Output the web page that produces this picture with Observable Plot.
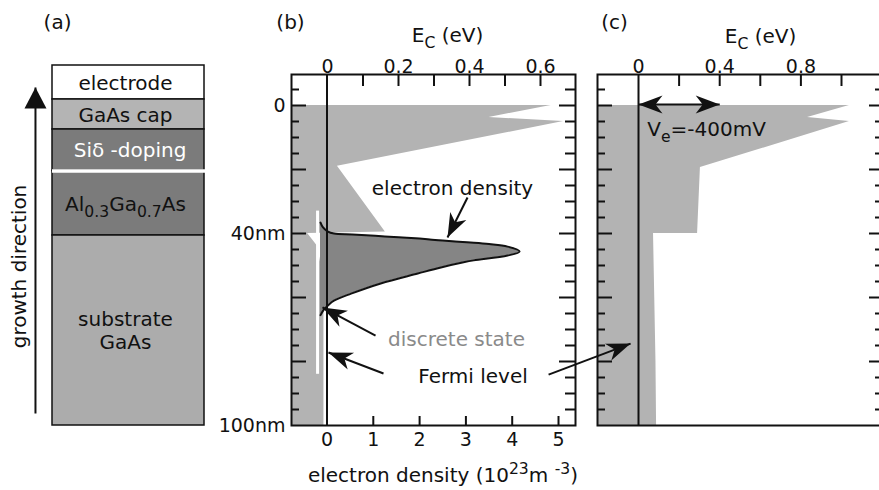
<!DOCTYPE html>
<html>
<head>
<meta charset="utf-8">
<script src="https://cdn.jsdelivr.net/npm/d3@7"></script>
<script src="https://cdn.jsdelivr.net/npm/@observablehq/plot@0.6"></script>
<style>
html, body { margin: 0; padding: 0; background: #fff; }
#fig { position: relative; width: 879px; height: 490px; overflow: hidden; background: #fff; font-family: "DejaVu Sans", sans-serif; }
#fig svg { position: absolute; left: 0; top: 0; }
</style>
</head>
<body>
<div id="fig"></div>
<script>
// ---------------- data ----------------
// (a) layer stack (schematic units, top to bottom)
const layerNames  = ["electrode", "GaAs cap", "Siδ -doping", "Al_{0.3}Ga_{0.7}As", "substrate\nGaAs"];
const layerTop    = [0, 34, 64, 105.5, 170];
const layerBottom = [34, 64, 105.5, 170, 360];
const layerColors = ["#ffffff", "#b4b4b4", "#7b7b7b", "#7b7b7b", "#acacac"];

// (b) conduction band edge E_C (eV) vs depth (nm)
const bandDepthB = [0, 3.75, 5, 19, 39.5, 40, 44, 50, 60, 100];
const bandEB     = [0.63, 0.455, 0.665, 0.028, 0.163, -0.056, -0.028, -0.018, -0.01, -0.01];

// (b) electron density (10^23 m^-3) vs depth (nm)
const densDepth = [36.6, 38.0, 39.4, 40.0, 40.3, 40.9, 41.6, 42.2, 42.8, 43.3, 44.1, 45.6, 46.9, 48.4, 49.0, 50.6, 52.5, 55.6, 58.8, 61.0, 62.5, 64.0, 65.5];
const densValue = [-0.14, -0.09, 0.02, 0.15, 0.55, 1.25, 2.0, 2.5, 3.1, 3.5, 3.9, 4.16, 3.9, 3.17, 2.95, 2.46, 1.96, 1.16, 0.52, 0.15, 0.02, -0.08, -0.14];

// (b) discrete state level (eV) and its drawn depth span (nm)
const discreteStateE = -0.028;
const discreteStateSpan = [33, 84];

// (c) conduction band edge with V_e = -400 mV
const bandDepthC = [0, 3.75, 5, 19.4, 40, 40, 60, 80, 100];
const bandEC     = [1.039, 0.833, 1.039, 0.305, 0.291, 0.074, 0.080, 0.086, 0.089];
const gateShift  = [0, 0.4]; // V_e arrow span (eV)

// ticks
const yMajorTicks = [0, 20, 40, 60, 80];
const yMinorTicks = [-5, 5, 10, 15, 25, 30, 35, 45, 50, 55, 65, 70, 75, 85, 90, 95];
const depthLabelValues = [0, 40, 100];
const depthLabelTexts  = ["0", "40nm", "100nm"];
const eTicksB = [0.1, 0.2, 0.3, 0.4, 0.5, 0.6];
const eLabelsB = [0, 0.2, 0.4, 0.6];
const nTicksB = [0, 1, 2, 3, 4, 5];
const eTicksC = [0.2, 0.4, 0.6, 0.8, 1.0];
const eLabelsC = [0, 0.4, 0.8];

// ---------------- layout ----------------
const W = 890, H = 490, FT = 74, FB = 425;
const INK = "#111";
const depthDomain = [-9.6875, 100];
const BL = 291, BR = 575, CL = 597, CR = 883;
const eDomainB = [-0.1014, 0.6986];
const nDomainB = [-0.7667, 5.367];
const eDomainC = [-0.2020, 1.2069];
const SVGNS = "http://www.w3.org/2000/svg";

function headMarker(d, orient) {
  return (color, context) => {
    const doc = (context && context.document) || document;
    const m = doc.createElementNS(SVGNS, "marker");
    m.setAttribute("viewBox", "-30 -15 32 30");
    m.setAttribute("markerWidth", "32");
    m.setAttribute("markerHeight", "30");
    m.setAttribute("markerUnits", "userSpaceOnUse");
    m.setAttribute("refX", "0");
    m.setAttribute("refY", "0");
    m.setAttribute("orient", orient);
    const p = doc.createElementNS(SVGNS, "path");
    p.setAttribute("d", d);
    p.setAttribute("fill", INK);
    p.setAttribute("stroke", "none");
    m.appendChild(p);
    return m;
  };
}
const NOTCH = "M0,0 L-24,-9 L-17,0 L-24,9 Z";
const TRI = "M0,0 L-21,-11 L-21,11 Z";
let headEnd = headMarker(NOTCH, "auto");
let headStart = headMarker(NOTCH, "auto-start-reverse");
let triEnd = headMarker(TRI, "auto");
try { Plot.link([], {x1: 0, x2: 0, y1: 0, y2: 0, markerEnd: headEnd}); }
catch (e) { headEnd = "arrow"; headStart = "arrow"; triEnd = "arrow"; }

const baseStyle = {background: "transparent", overflow: "visible", maxWidth: "none", fontFamily: "DejaVu Sans, sans-serif", fontSize: "19px", color: INK};

function panel(xDomain, L, R, yDomain, yRange, marks) {
  return Plot.plot({
    width: W, height: H,
    marginTop: yRange[0], marginBottom: H - yRange[1], marginLeft: L, marginRight: W - R,
    x: {domain: xDomain, range: [L, R], axis: null},
    y: {domain: yDomain, range: yRange, axis: null},
    style: baseStyle,
    marks
  });
}

function yTickMarks(FW, rightMajor, rightMinor) {
  return [
    Plot.ruleY(yMajorTicks, {y: d => d, insetRight: FW - 15, stroke: INK, strokeWidth: 2}),
    Plot.ruleY(yMinorTicks, {y: d => d, insetRight: FW - 8, stroke: INK, strokeWidth: 2}),
    Plot.ruleY(yMajorTicks, {y: d => d, insetLeft: FW - rightMajor, stroke: INK, strokeWidth: 2}),
    Plot.ruleY(yMinorTicks, {y: d => d, insetLeft: FW - rightMinor, stroke: INK, strokeWidth: 2})
  ];
}

// ---------------- panel (a) ----------------
const layers = layerNames.map((n, i) => ({name: n, top: layerTop[i], bottom: layerBottom[i]}));
const midY = d => (d.top + d.bottom) / 2;
const plotA = Plot.plot({
  width: W, height: H, marginTop: 65, marginBottom: H - 425, marginLeft: 52, marginRight: W - 204,
  x: {domain: [0, 1], range: [52, 204], axis: null},
  y: {domain: [0, 360], range: [65, 425], axis: null},
  color: {domain: layerNames, range: layerColors},
  style: baseStyle,
  marks: [
    Plot.rect(layers, {x1: 0, x2: 1, y1: "top", y2: "bottom", fill: "name", stroke: INK, strokeWidth: 1.5}),
    Plot.ruleY([layerTop[3]], {y: d => d, x1: 0, x2: 1.02, stroke: "white", strokeWidth: 3.5}),
    Plot.text(layers.filter(d => d.name !== "Siδ -doping"), {x: 0.48, y: midY, text: "name", fill: INK, fontSize: 20, lineAnchor: "middle", lineHeight: 1.15}),
    Plot.text(layers.filter(d => d.name === "Siδ -doping"), {x: 0.51, y: midY, text: "name", fill: "white", fontSize: 20, lineAnchor: "middle"}),
    Plot.link([0], {x1: -0.112, x2: -0.112, y1: 348, y2: 22, stroke: INK, strokeWidth: 2, markerEnd: triEnd}),
    Plot.text(["growth direction"], {x: -0.218, y: 201, rotate: -90, fontSize: 20, fill: INK}),
    Plot.text(["(a)"], {x: 0.033, y: -37, fontSize: 20, fill: INK, lineAnchor: "bottom"})
  ]
});

// ---------------- panel (b): band layer ----------------
const bandB = bandDepthB.map((d, i) => ({depth: d, E: bandEB[i]}));
const plotB1 = panel(eDomainB, BL, BR, depthDomain, [FT, FB], [
  Plot.areaX(bandB, {y: "depth", x1: eDomainB[0], x2: "E", fill: "#b3b3b3"}),
  Plot.ruleX([discreteStateE], {x: d => d, y1: discreteStateSpan[0], y2: discreteStateSpan[1], stroke: "white", strokeWidth: 3}),
  Plot.ruleX(eTicksB, {x: d => d, insetBottom: FB - FT - 12, stroke: INK, strokeWidth: 2}),
  Plot.text(eLabelsB, {x: d => d, frameAnchor: "top", lineAnchor: "bottom", dy: -2, text: d => String(d), fontSize: 19, fill: INK}),
  Plot.text(["E_{C} (eV)"], {x: 0.338, y: -19.7, lineAnchor: "bottom", fontSize: 20, fill: INK})
]);

// ---------------- panel (b): density layer ----------------
const dens = densDepth.map((d, i) => ({depth: d, n: densValue[i]}));
const FWB = BR - BL;
const plotB2 = panel(nDomainB, BL, BR, depthDomain, [FT, FB], [
  Plot.areaX(dens, {y: "depth", x1: densValue[0], x2: "n", fill: "#858585", curve: "catmull-rom"}),
  Plot.lineX(dens, {x: "n", y: "depth", stroke: INK, strokeWidth: 2, curve: "catmull-rom"}),
  Plot.ruleX([0], {x: d => d, stroke: INK, strokeWidth: 2}),
  ...yTickMarks(FWB, 16, 10),
  Plot.ruleX(nTicksB, {x: d => d, insetTop: FB - FT - 9, stroke: INK, strokeWidth: 2}),
  Plot.frame({stroke: INK, strokeWidth: 2}),
  Plot.text(depthLabelValues, {y: d => d, frameAnchor: "left", textAnchor: "end", dx: -6, text: (d, i) => depthLabelTexts[i], fontSize: 19, fill: INK}),
  Plot.text(nTicksB, {x: d => d, frameAnchor: "bottom", lineAnchor: "top", dy: 7, text: d => String(d), fontSize: 19, fill: INK}),
  Plot.text(["electron density (10^{23}m ^{-3})"], {x: 2.505, y: 117.8, lineAnchor: "bottom", fontSize: 20, fill: INK}),
  Plot.text(["(b)"], {x: -0.788, y: -24.06, lineAnchor: "bottom", fontSize: 20, fill: INK}),
  Plot.text(["electron density"], {x: 2.71, y: 28.1, lineAnchor: "bottom", fontSize: 20, fill: INK}),
  Plot.text(["discrete state"], {x: 2.797, y: 75.0, lineAnchor: "bottom", fontSize: 20, fill: "#8a8a8a"}),
  Plot.text(["Fermi level"], {x: 3.153, y: 86.6, lineAnchor: "bottom", fontSize: 20, fill: INK}),
  Plot.link([0], {x1: 3.035, y1: 28.75, x2: 2.603, y2: 41.25, stroke: INK, strokeWidth: 2, markerEnd: headEnd}),
  Plot.link([0], {x1: 1.048, y1: 71.9, x2: -0.097, y2: 63.1, stroke: INK, strokeWidth: 2, markerEnd: headEnd}),
  Plot.link([0], {x1: 1.220, y1: 83.75, x2: 0.032, y2: 77.2, stroke: INK, strokeWidth: 2, markerEnd: headEnd})
]);

// ---------------- panel (c) ----------------
const bandC = bandDepthC.map((d, i) => ({depth: d, E: bandEC[i]}));
const FWC = CR - CL;
const plotC = panel(eDomainC, CL, CR, depthDomain, [FT, FB], [
  Plot.areaX(bandC, {y: "depth", x1: eDomainC[0], x2: "E", fill: "#b3b3b3"}),
  Plot.ruleX([0], {x: d => d, stroke: INK, strokeWidth: 2}),
  ...yTickMarks(FWC, 14, 8),
  Plot.ruleX(eTicksC, {x: d => d, insetBottom: FB - FT - 12, stroke: INK, strokeWidth: 2}),
  Plot.frame({stroke: INK, strokeWidth: 2}),
  Plot.text(eLabelsC, {x: d => d, frameAnchor: "top", lineAnchor: "bottom", dy: -2, text: d => String(d), fontSize: 19, fill: INK}),
  Plot.text(["E_{C} (eV)"], {x: 0.601, y: -19.4, lineAnchor: "bottom", fontSize: 20, fill: INK}),
  Plot.text(["(c)"], {x: -0.118, y: -24.06, lineAnchor: "bottom", fontSize: 20, fill: INK}),
  Plot.link([0], {x1: gateShift[0], x2: gateShift[1], y1: -0.3, y2: -0.3, stroke: INK, strokeWidth: 2, markerStart: headStart, markerEnd: headEnd}),
  Plot.text(["V_{e}=-400mV"], {x: 0.335, y: 9.4, lineAnchor: "bottom", fontSize: 20, fill: INK}),
  Plot.link([0], {x1: -0.443, y1: 84.1, x2: -0.039, y2: 74.4, stroke: INK, strokeWidth: 2, markerEnd: headEnd})
]);

const fig = document.getElementById("fig");
[plotA, plotB1, plotB2, plotC].forEach(p => fig.appendChild(p));

// rich text: _{sub} and ^{sup}
function richify(root) {
  root.querySelectorAll("text").forEach(t => {
    if (t.querySelector("tspan")) return;
    const s = t.textContent;
    if (!/[_^]\{/.test(s)) return;
    const fs = parseFloat(getComputedStyle(t).fontSize) || 20;
    t.textContent = "";
    const re = /([_^])\{([^}]*)\}/g;
    let last = 0, m, shift = 0;
    const add = (txt, kind) => {
      const ts = document.createElementNS(SVGNS, "tspan");
      const target = kind === "_" ? 0.3 * fs : kind === "^" ? -0.42 * fs : 0;
      ts.setAttribute("dy", String(target - shift));
      shift = target;
      if (kind) ts.setAttribute("font-size", String(0.78 * fs));
      ts.textContent = txt;
      t.appendChild(ts);
    };
    while ((m = re.exec(s))) {
      if (m.index > last) add(s.slice(last, m.index), null);
      add(m[2], m[1]);
      last = re.lastIndex;
    }
    if (last < s.length) add(s.slice(last), null);
  });
}
[plotA, plotB1, plotB2, plotC].forEach(richify);
</script>
</body>
</html>
